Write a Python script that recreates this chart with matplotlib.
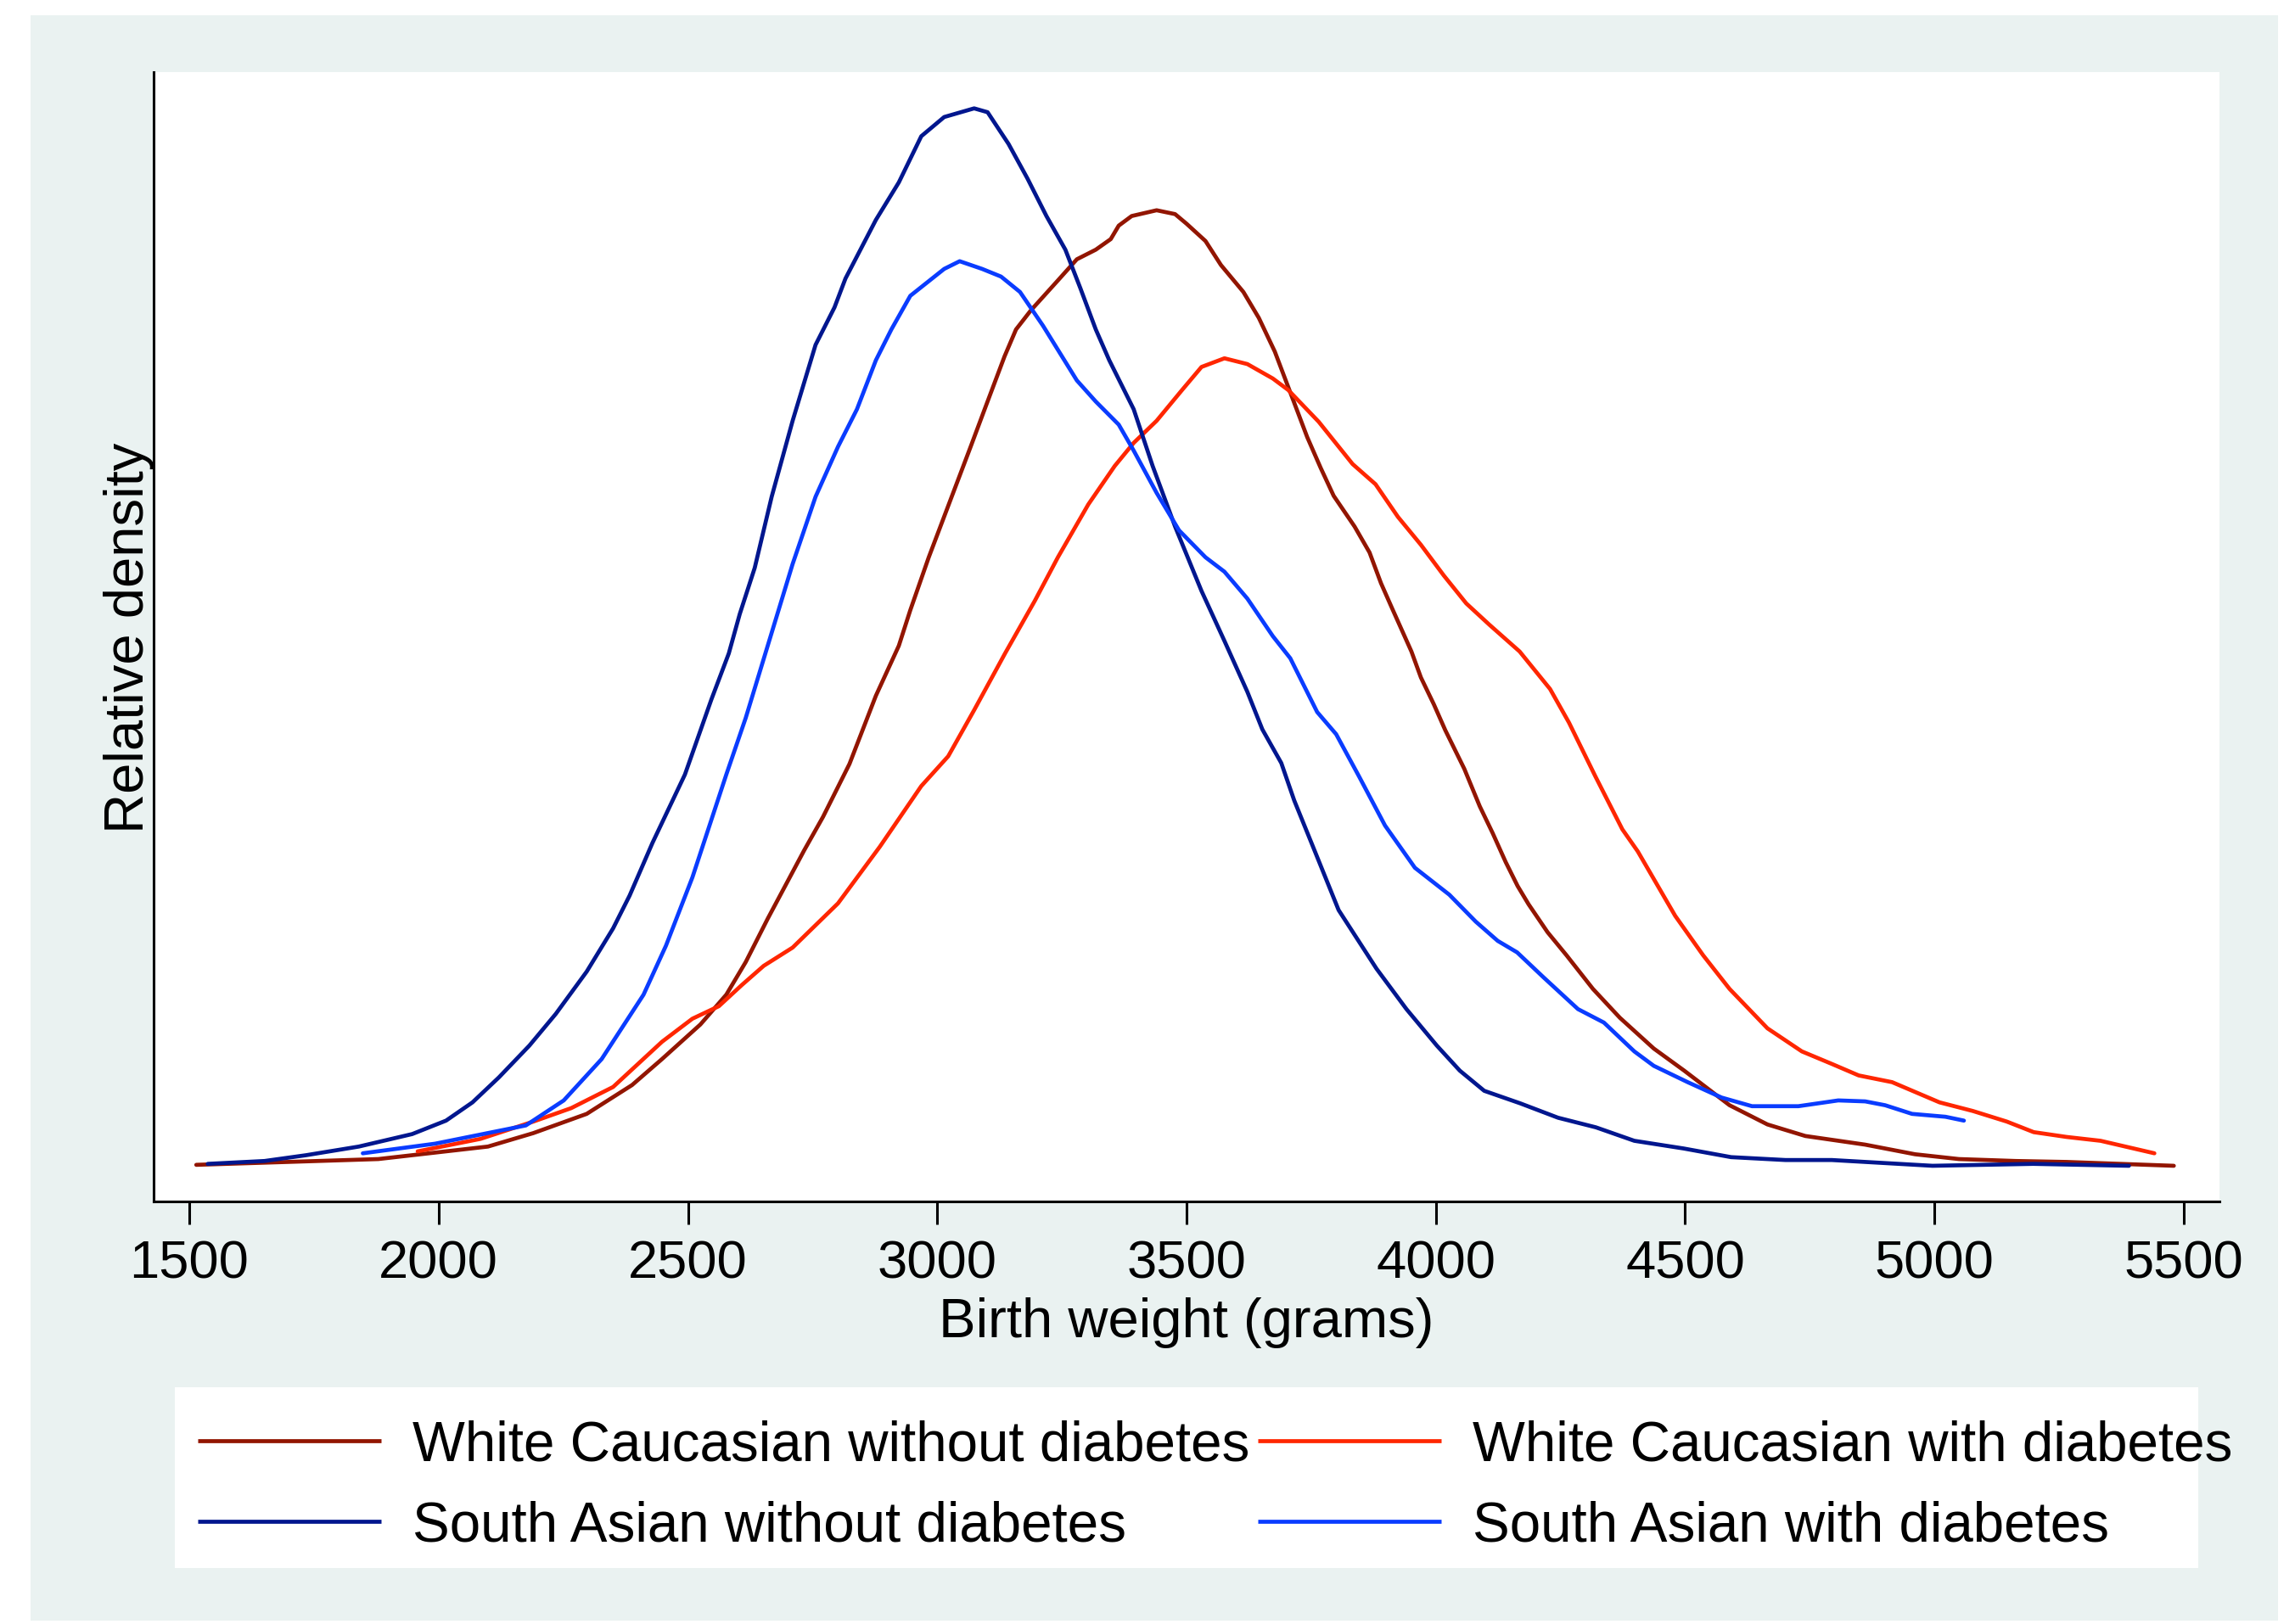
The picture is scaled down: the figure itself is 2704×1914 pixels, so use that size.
import matplotlib
matplotlib.use("Agg")
import matplotlib.pyplot as plt
from matplotlib.patches import Rectangle

plt.rcParams["font.family"] = ["Liberation Sans", "DejaVu Sans"]

# birth weight (g) and relative density (x 1e-4)
wc_nodm_g = [1514, 1879, 2099, 2190, 2297, 2388, 2448, 2525, 2577, 2616, 2660,
             2733, 2771, 2824, 2877, 2923, 2946, 2983, 3029, 3067, 3098, 3135,
             3158, 3188, 3242, 3280, 3318, 3348, 3364, 3390, 3440, 3477, 3500,
             3538, 3569, 3614, 3645, 3677, 3715, 3742, 3769, 3795, 3837, 3867,
             3890, 3913, 3951, 3970, 3996, 4019, 4057, 4088, 4114, 4140, 4164,
             4186, 4224, 4262, 4315, 4369, 4437, 4498, 4589, 4665, 4741, 4861,
             4961, 5049, 5163, 5265, 5480]
wc_nodm_d = [0.01, 0.07, 0.20, 0.34, 0.54, 0.84, 1.11, 1.47, 1.78, 2.12, 2.57,
             3.28, 3.63, 4.18, 4.89, 5.41, 5.78, 6.33, 6.96, 7.48, 7.91, 8.42,
             8.70, 8.90, 9.21, 9.43, 9.53, 9.64, 9.78, 9.88, 9.94, 9.90, 9.80,
             9.62, 9.37, 9.09, 8.82, 8.47, 7.95, 7.58, 7.26, 6.97, 6.65, 6.38,
             6.06, 5.79, 5.35, 5.08, 4.80, 4.53, 4.13, 3.74, 3.46, 3.16, 2.91,
             2.72, 2.43, 2.19, 1.84, 1.54, 1.22, 0.99, 0.63, 0.43, 0.31, 0.22,
             0.12, 0.07, 0.05, 0.04, 0.00]

wc_dm_g = [1958, 2084, 2190, 2266, 2350, 2448, 2509, 2562, 2608, 2652, 2710,
           2801, 2885, 2968, 3022, 3074, 3136, 3196, 3242, 3303, 3356, 3394,
           3440, 3491, 3530, 3576, 3622, 3673, 3704, 3765, 3833, 3879, 3924,
           3970, 4016, 4061, 4107, 4168, 4229, 4267, 4320, 4374, 4405, 4480,
           4536, 4589, 4665, 4734, 4794, 4848, 4915, 5010, 5077, 5145, 5199,
           5265, 5333, 5441]
wc_dm_d = [0.15, 0.28, 0.46, 0.60, 0.82, 1.29, 1.53, 1.66, 1.88, 2.08, 2.27,
           2.73, 3.32, 3.95, 4.26, 4.74, 5.33, 5.88, 6.33, 6.88, 7.28, 7.52,
           7.75, 8.07, 8.31, 8.40, 8.34, 8.19, 8.07, 7.74, 7.30, 7.09, 6.75,
           6.46, 6.14, 5.85, 5.63, 5.35, 4.96, 4.61, 4.05, 3.50, 3.27, 2.60,
           2.19, 1.84, 1.43, 1.19, 1.06, 0.94, 0.87, 0.66, 0.57, 0.46, 0.35,
           0.30, 0.26, 0.13]

sa_nodm_g = [1537, 1651, 1734, 1840, 1947, 2015, 2068, 2121, 2182, 2235, 2297,
             2350, 2383, 2429, 2494, 2547, 2582, 2604, 2634, 2668, 2710, 2756,
             2794, 2816, 2877, 2923, 2968, 3014, 3074, 3101, 3143, 3181, 3219,
             3257, 3287, 3318, 3345, 3394, 3432, 3477, 3530, 3576, 3622, 3652,
             3690, 3716, 3752, 3805, 3881, 3941, 4002, 4048, 4097, 4169, 4245,
             4321, 4398, 4497, 4592, 4701, 4794, 4996, 5198, 5390]
sa_nodm_d = [0.02, 0.05, 0.11, 0.20, 0.33, 0.47, 0.66, 0.92, 1.25, 1.58, 2.02,
             2.47, 2.81, 3.36, 4.07, 4.85, 5.33, 5.74, 6.22, 6.96, 7.75, 8.54,
             8.93, 9.23, 9.84, 10.23, 10.71, 10.91, 11.00, 10.96, 10.63, 10.27,
             9.88, 9.53, 9.13, 8.70, 8.38, 7.87, 7.28, 6.65, 5.98, 5.46, 4.93,
             4.54, 4.19, 3.80, 3.34, 2.66, 2.05, 1.63, 1.25, 0.99, 0.78, 0.65,
             0.50, 0.40, 0.26, 0.18, 0.09, 0.06, 0.06, 0.00, 0.02, 0.00]

sa_dm_g = [1848, 1993, 2175, 2251, 2327, 2411, 2456, 2509, 2577, 2616, 2653,
           2710, 2756, 2801, 2839, 2877, 2908, 2946, 3014, 3045, 3090, 3128,
           3166, 3212, 3280, 3318, 3364, 3394, 3440, 3485, 3538, 3576, 3622,
           3673, 3708, 3762, 3800, 3846, 3898, 3958, 4027, 4080, 4124, 4163,
           4216, 4285, 4337, 4398, 4437, 4505, 4573, 4634, 4727, 4807, 4861,
           4901, 4955, 5022, 5059]
sa_dm_d = [0.13, 0.23, 0.42, 0.68, 1.11, 1.78, 2.29, 3.00, 4.07, 4.66, 5.29,
           6.26, 6.96, 7.48, 7.87, 8.38, 8.70, 9.05, 9.33, 9.41, 9.33, 9.25,
           9.09, 8.74, 8.17, 7.95, 7.71, 7.44, 7.00, 6.61, 6.33, 6.18, 5.90,
           5.51, 5.28, 4.72, 4.49, 4.05, 3.54, 3.10, 2.82, 2.54, 2.34, 2.22,
           1.96, 1.63, 1.49, 1.19, 1.04, 0.87, 0.71, 0.62, 0.62, 0.68, 0.67,
           0.63, 0.54, 0.51, 0.47]

x_ticks = [1500, 2000, 2500, 3000, 3500, 4000, 4500, 5000, 5500]

labels = ["White Caucasian without diabetes", "White Caucasian with diabetes",
          "South Asian without diabetes", "South Asian with diabetes"]
colors = ["#921500", "#FF2600", "#00168E", "#0A3CFF"]

W, H = 2704, 1915
fig = plt.figure(figsize=(W / 100, H / 100), dpi=100)
fig.patch.set_facecolor("white")

# stata style light background panel
fig.add_artist(Rectangle((36 / W, 1 - 1911 / H), (2684 - 36) / W, (1911 - 19) / H,
                         transform=fig.transFigure, facecolor="#EAF2F1",
                         edgecolor="none", zorder=-2))
# white legend box
fig.add_artist(Rectangle((206 / W, 1 - 1849 / H), (2590 - 206) / W, (1849 - 1636) / H,
                         transform=fig.transFigure, facecolor="white",
                         edgecolor="none", zorder=-1))

ax = fig.add_axes([181 / W, 1 - 1417 / H, (2615 - 181) / W, (1417 - 86) / H])
ax.set_facecolor("white")

lw = 3.4
style = dict(lw=lw, solid_joinstyle="round", solid_capstyle="round")
l1, = ax.plot(wc_nodm_g, wc_nodm_d, color=colors[0], label=labels[0], **style)
l2, = ax.plot(wc_dm_g, wc_dm_d, color=colors[1], label=labels[1], **style)
l3, = ax.plot(sa_nodm_g, sa_nodm_d, color=colors[2], label=labels[2], **style)
l4, = ax.plot(sa_dm_g, sa_dm_d, color=colors[3], label=labels[3], **style)

ax.set_xlim(1428.5, 5571.5)
ax.set_ylim(-0.371, 11.377)

ax.spines["top"].set_visible(False)
ax.spines["right"].set_visible(False)
ax.spines["left"].set_linewidth(2.2)
ax.spines["bottom"].set_linewidth(2.2)

ax.set_xticks(x_ticks)
ax.set_xticklabels([str(t) for t in x_ticks])
ax.tick_params(axis="x", direction="out", length=19.4, width=2.2, pad=12,
               labelsize=45.5, colors="black")
ax.set_yticks([])

ax.set_xlabel("Birth weight (grams)", fontsize=47)
ax.xaxis.label.set_verticalalignment("baseline")
ax.xaxis.set_label_coords(0.5, (1417 - 1576) / 1331)

ax.set_ylabel("Relative density", fontsize=47)
ax.yaxis.set_label_coords(0.0006, 0.5)

# column-first fill, so order the handles to get two rows
leg = fig.legend([l1, l3, l2, l4], [labels[0], labels[2], labels[1], labels[3]],
                 ncol=2, loc="upper left", bbox_to_anchor=(233 / W, 1 - 1674 / H),
                 frameon=False, fontsize=47.2, handlelength=3.3, handletextpad=0.56,
                 columnspacing=0.14, labelspacing=0.5, borderpad=0, borderaxespad=0)
for h in leg.legend_handles:
    h.set_solid_capstyle("butt")

fig.savefig("out.png", dpi=100)
